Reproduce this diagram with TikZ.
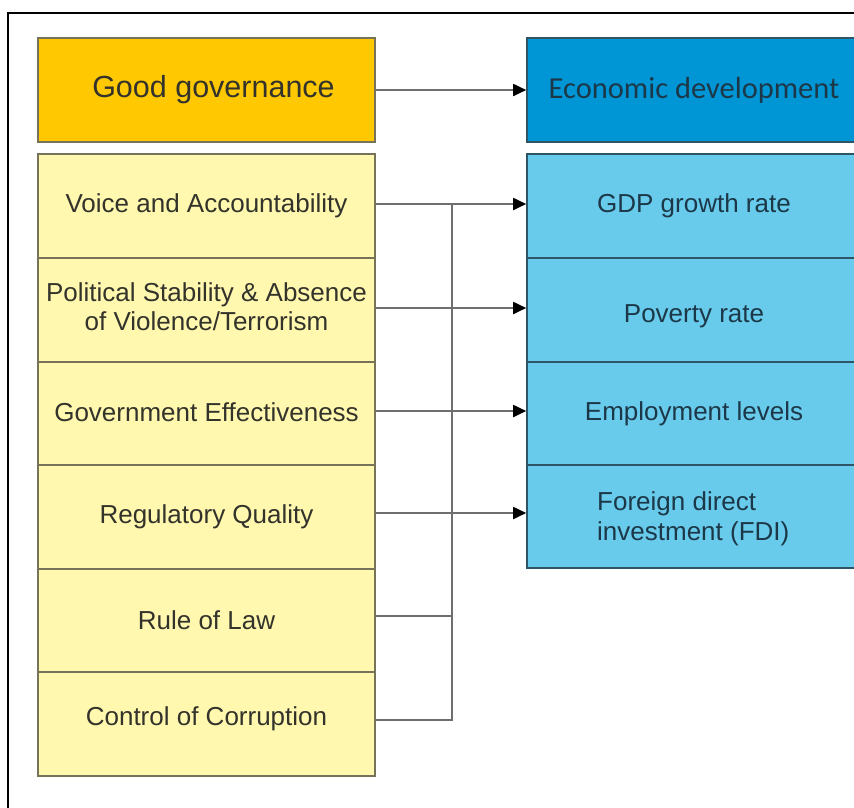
\documentclass[tikz,border=0pt]{standalone}
\usepackage{fontspec}
\setmainfont{Liberation Sans}
\newfontfamily\calfont{Carlito}
\usetikzlibrary{arrows.meta}
\definecolor{ggfill}{HTML}{FFC800}
\definecolor{edfill}{HTML}{0096D6}
\definecolor{yfill}{HTML}{FFF8AE}
\definecolor{bfill}{HTML}{68CBEB}
\definecolor{yline}{HTML}{77735A}
\definecolor{bline}{HTML}{2E5566}
\definecolor{ytext}{HTML}{33332C}
\definecolor{btext}{HTML}{1C3848}
\definecolor{connc}{HTML}{6E6E6E}
\tikzset{
  ybox/.style={draw=yline, line width=1.6pt, fill=yfill, text=ytext, minimum width=337pt, inner sep=0pt, align=center, font=\fontsize{26}{29.5}\selectfont},
  bbox/.style={draw=bline, line width=1.6pt, fill=bfill, text=btext, minimum width=334pt, inner sep=0pt, align=center, font=\fontsize{26}{29.5}\selectfont},
  ytxt/.style={text=ytext, inner sep=0pt, align=center, font=\fontsize{26}{29}\selectfont},
  btxt/.style={text=btext, inner sep=0pt, font=\fontsize{26}{30}\selectfont},
  conn/.style={draw=connc, line width=1.8pt},
  arr/.style={conn, -{Triangle[length=13pt,width=12pt,fill=black,color=black]}},
}
\begin{document}
\begin{tikzpicture}[x=1pt,y=-1pt]
\useasboundingbox (0,0) rectangle (854,807);
\clip (0,0) rectangle (854,807);
\fill[white] (0,0) rectangle (854,807);
\draw[line width=1.8pt, black] (8,13) rectangle (880,830);
% header boxes
\node[ybox, fill=ggfill, minimum height=104pt, font=\fontsize{30.5}{34}\selectfont, text=ytext] (gg) at (206.5,90) {\hspace*{14pt}Good governance};
\node[bbox, fill=edfill, minimum height=104pt, font=\calfont\fontsize{30.5}{34}\selectfont, text=btext] (ed) at (694,90) {Economic development};
% yellow stack
\node[ybox, minimum height=104pt] (va) at (206.5,206) {Voice and Accountability};
\node[ybox, minimum height=104pt] (ps) at (206.5,310) {};
\node[ytxt] (pst) at (206.5,306.5) {Political Stability \& Absence\\of Violence/Terrorism};
\node[ybox, minimum height=103pt] (ge) at (206.5,413.5) {};
\node[ytxt] (get) at (206.5,412.5) {Government Effectiveness};
\node[ybox, minimum height=104pt] (rq) at (206.5,517) {Regulatory Quality};
\node[ybox, minimum height=103pt] (rl) at (206.5,620.5) {Rule of Law};
\node[ybox, minimum height=104pt] (cc) at (206.5,724) {};
\node[ytxt] (cct) at (206.5,719) {Control of Corruption};
% blue stack
\node[bbox, minimum height=104pt] (gdp) at (694,206) {GDP growth rate};
\node[bbox, minimum height=104pt] (pov) at (694,310) {};
\node[btxt] (povt) at (694,316) {Poverty rate};
\node[bbox, minimum height=103pt] (emp) at (694,413.5) {Employment levels};
\node[bbox, minimum height=103pt] (fdi) at (694,516.5) {};
\node[btxt, anchor=west, align=left] (fdit) at (597,519) {Foreign direct\\investment (FDI)};
% connectors
\coordinate (bus) at (452,0);
\draw[arr] (gg.east) -- (ed.west);
\draw[arr] ([yshift=2pt]va.east) -- ([yshift=2pt]va.east -| gdp.west);
\draw[arr] ([yshift=2pt]ps.east) -- ([yshift=2pt]ps.east -| pov.west);
\draw[arr] ([yshift=2.5pt]ge.east) -- ([yshift=2.5pt]ge.east -| emp.west);
\draw[arr] ([yshift=4pt]rq.east) -- ([yshift=4pt]rq.east -| fdi.west);
\draw[conn] ([yshift=4.5pt]rl.east) -- ([yshift=4.5pt]rl.east -| bus);
\draw[conn] ([yshift=4pt]cc.east) -- ([yshift=4pt]cc.east -| bus) -- ([yshift=2pt]va.east -| bus);
\end{tikzpicture}
\end{document}
